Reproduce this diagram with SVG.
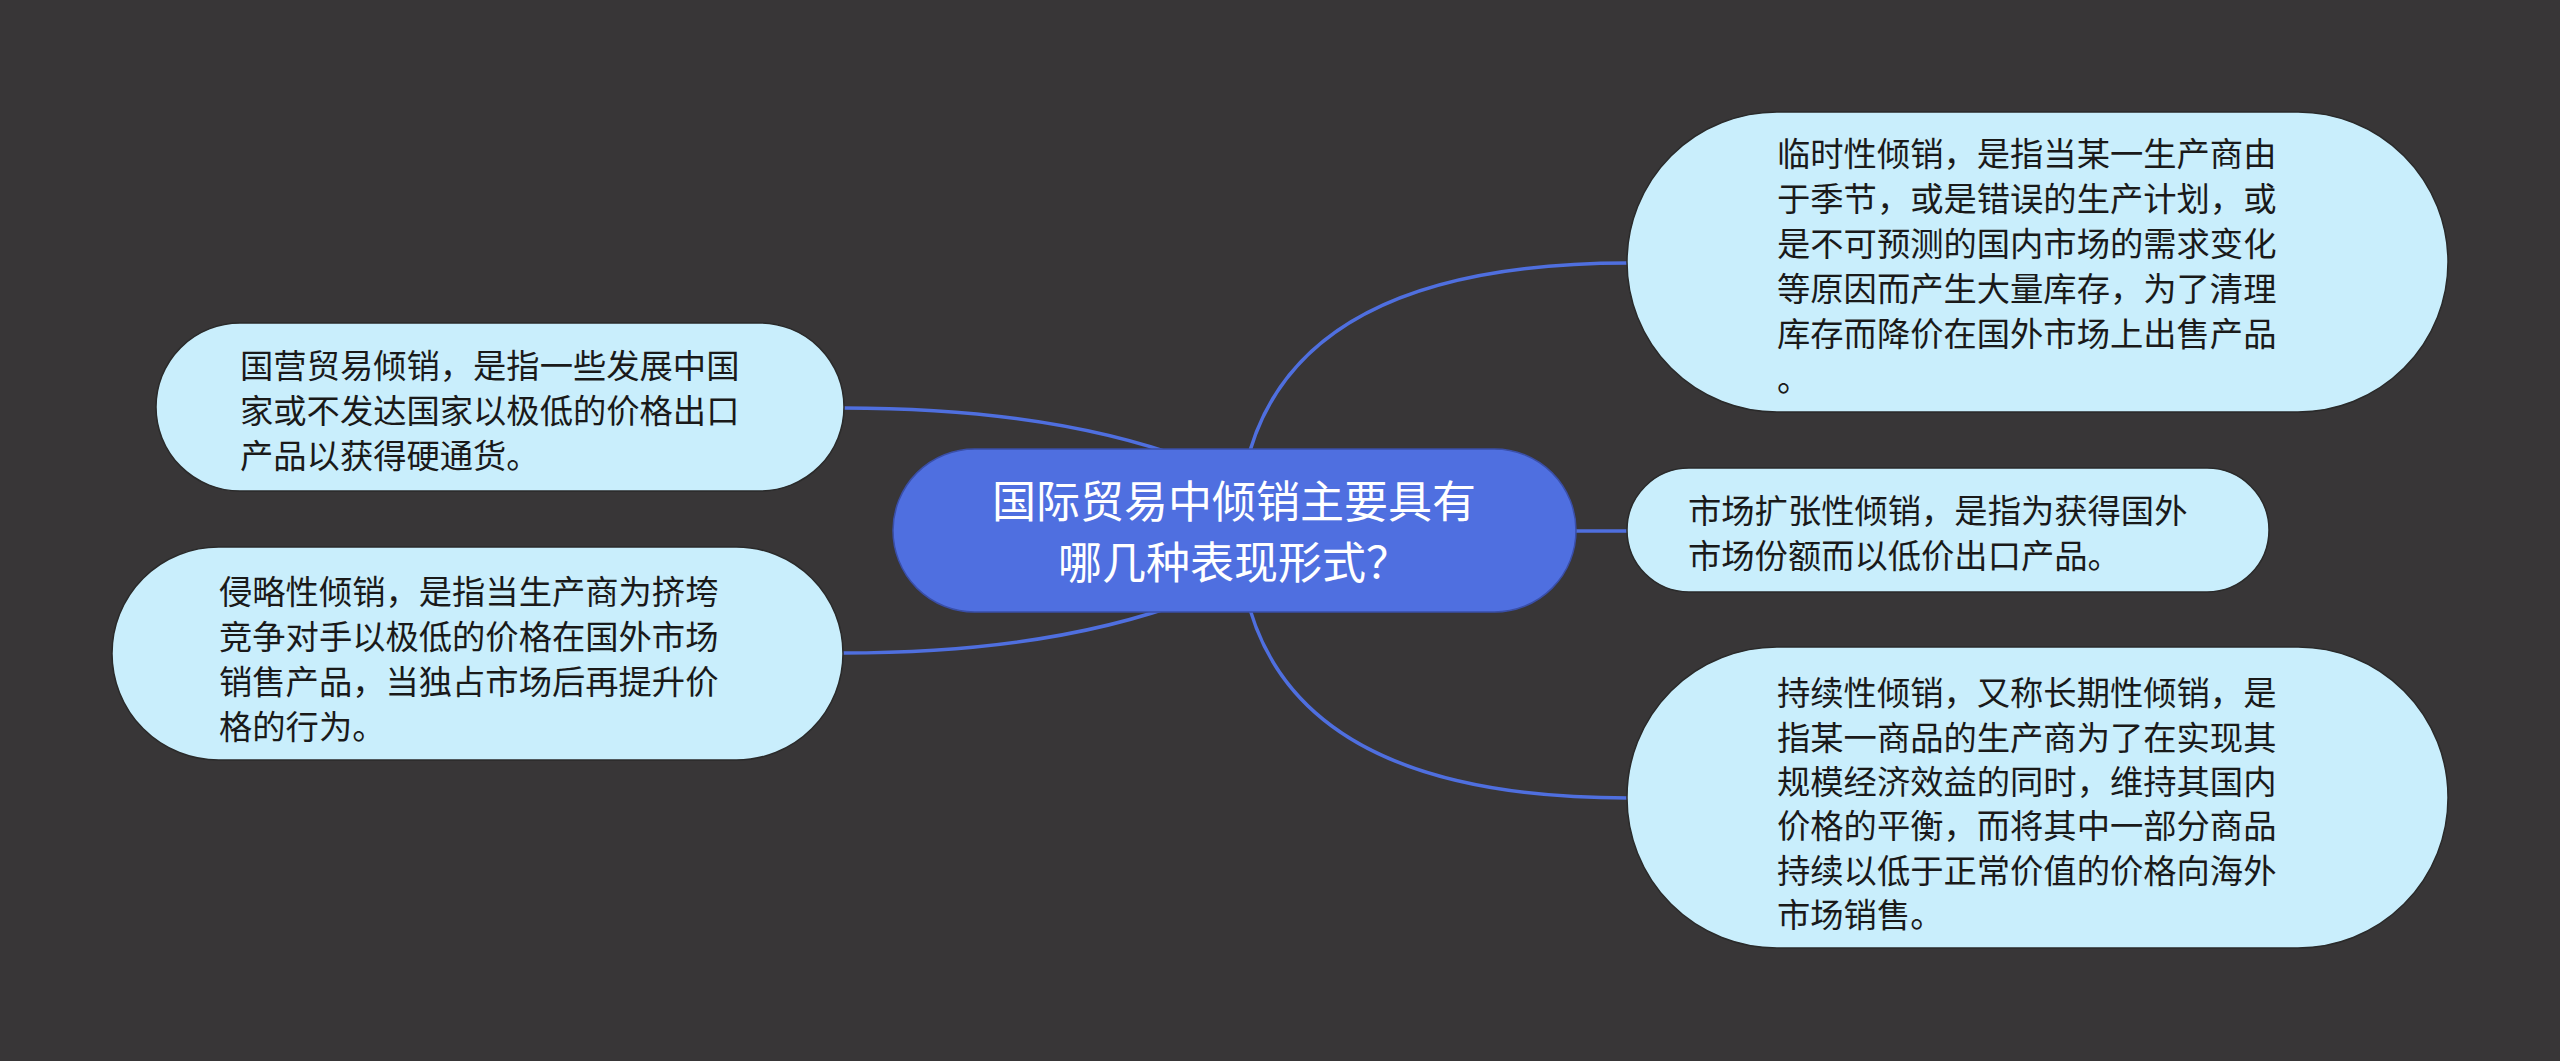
<svg xmlns="http://www.w3.org/2000/svg" width="2560" height="1061" viewBox="0 0 2560 1061">
  <style>
    .edge { fill: none; stroke: #4f6fdf; stroke-width: 3.5; }
    .leaf { fill: #c9eefc; stroke: #2a2a2a; stroke-width: 1.5; }
    .root { fill: #4f6fe0; stroke: #3a4fa8; stroke-width: 1.5; }
    .lt { font-family: "Noto Sans CJK SC", "Noto Sans", sans-serif; font-size: 33.3px; fill: #1a1a1a; }
    .rt { font-family: "Noto Sans CJK SC", "Noto Sans", sans-serif; font-size: 44px; fill: #ffffff; text-anchor: middle; }
  </style>
  <rect x="0" y="0" width="2560" height="1061" fill="#383637"/>
  <g id="connectors">
    <path class="edge" d="M 1245 470 Q 1290 263 1628 263"/>
    <path class="edge" d="M 1245 590 Q 1290 798 1628 798"/>
    <path class="edge" d="M 1570 531 L 1628 531"/>
    <path class="edge" d="M 1190 460 Q 1050 408 843 408"/>
    <path class="edge" d="M 1190 600 Q 1050 653 843 653"/>
  </g>
  <g id="root">
    <rect class="root" x="893" y="449" width="683" height="163" rx="81.5"/>
    <text class="rt" x="1234" y="518">国际贸易中倾销主要具有</text>
    <text class="rt" x="1234" y="579">哪几种表现形式？</text>
  </g>
  <g id="node-temporary">
    <rect class="leaf" x="1627" y="112" width="821" height="300" rx="150"/>
    <text class="lt" x="1777" y="165.5">临时性倾销，是指当某一生产商由</text>
    <text class="lt" x="1777" y="210.5">于季节，或是错误的生产计划，或</text>
    <text class="lt" x="1777" y="255.5">是不可预测的国内市场的需求变化</text>
    <text class="lt" x="1777" y="300.5">等原因而产生大量库存，为了清理</text>
    <text class="lt" x="1777" y="345.5">库存而降价在国外市场上出售产品</text>
    <text class="lt" x="1777" y="390.5">。</text>
  </g>
  <g id="node-state-trade">
    <rect class="leaf" x="156" y="323" width="688" height="168" rx="84"/>
    <text class="lt" x="240" y="377.5">国营贸易倾销，是指一些发展中国</text>
    <text class="lt" x="240" y="422.5">家或不发达国家以极低的价格出口</text>
    <text class="lt" x="240" y="467.5">产品以获得硬通货。</text>
  </g>
  <g id="node-predatory">
    <rect class="leaf" x="112" y="547" width="731" height="213" rx="106.5"/>
    <text class="lt" x="219" y="603.5">侵略性倾销，是指当生产商为挤垮</text>
    <text class="lt" x="219" y="648.5">竞争对手以极低的价格在国外市场</text>
    <text class="lt" x="219" y="693.5">销售产品，当独占市场后再提升价</text>
    <text class="lt" x="219" y="738.5">格的行为。</text>
  </g>
  <g id="node-expansion">
    <rect class="leaf" x="1627" y="468" width="642" height="124" rx="62"/>
    <text class="lt" x="1688" y="522.5">市场扩张性倾销，是指为获得国外</text>
    <text class="lt" x="1688" y="567.5">市场份额而以低价出口产品。</text>
  </g>
  <g id="node-persistent">
    <rect class="leaf" x="1627" y="647" width="821" height="301" rx="150"/>
    <text class="lt" x="1777" y="704.5">持续性倾销，又称长期性倾销，是</text>
    <text class="lt" x="1777" y="749.5">指某一商品的生产商为了在实现其</text>
    <text class="lt" x="1777" y="793.5">规模经济效益的同时，维持其国内</text>
    <text class="lt" x="1777" y="837.5">价格的平衡，而将其中一部分商品</text>
    <text class="lt" x="1777" y="882.5">持续以低于正常价值的价格向海外</text>
    <text class="lt" x="1777" y="926.5">市场销售。</text>
  </g>
</svg>
